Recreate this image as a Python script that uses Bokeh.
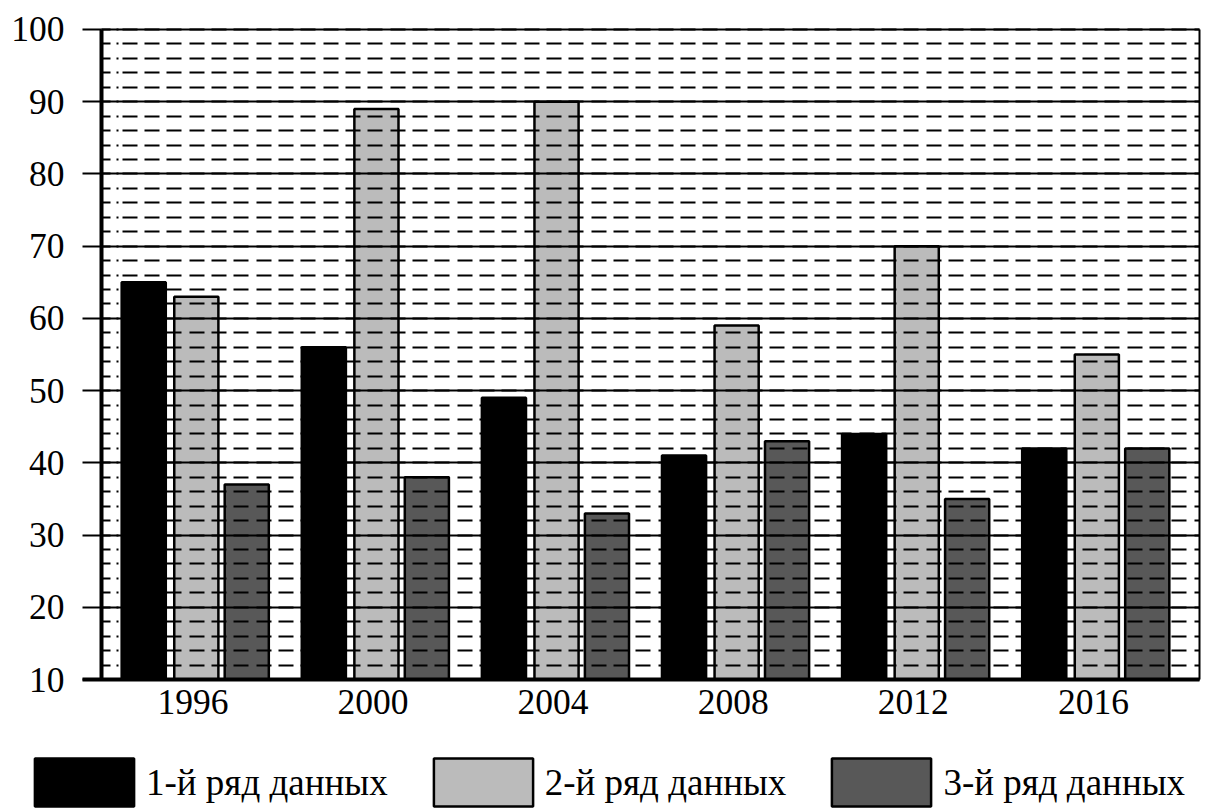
from bokeh.plotting import figure
from bokeh.models import (Range1d, FixedTicker, SingleIntervalTicker, Legend, LegendItem,
                          ColumnDataSource, LinearAxis)
from bokeh.embed import file_html
from bokeh.resources import INLINE

# ---- data ----
years = ["1996", "2000", "2004", "2008", "2012", "2016"]
series1 = [65, 56, 49, 41, 44, 42]
series2 = [63, 89, 90, 59, 70, 55]
series3 = [37, 38, 33, 43, 35, 42]
series_names = ["1-й ряд данных", "2-й ряд данных", "3-й ряд данных"]
y_min, y_max = 10, 100

# ---- style ----
colors = ["#000000", "#bbbbbb", "#585858"]
offsets = [-0.273, 0.019, 0.299]
bar_w = 0.245
FONT = "Liberation Serif"
FS = "35.5px"
X_LEFT, X_RIGHT = -0.507, 5.589      # plot-area edges (data units)

p = figure(width=1216, height=812,
           x_range=Range1d(-1.0683, 5.6835), y_range=Range1d(-8.415, 104.015),
           output_backend="svg", toolbar_location=None,
           min_border=0, min_border_left=0, min_border_right=0,
           min_border_top=0, min_border_bottom=0)
p.background_fill_color = "white"
p.border_fill_color = "white"
p.outline_line_color = None

renderers = []
for vals, col, off in zip([series1, series2, series3], colors, offsets):
    src = ColumnDataSource(dict(x=[i + off for i in range(len(years))], top=vals))
    r = p.vbar(x="x", top="top", bottom=y_min, width=bar_w, source=src,
               fill_color=col, line_color="black", line_width=2.5)
    renderers.append(r)

# x axis, drawn at y = 10
xa = p.xaxis[0]
xa.fixed_location = y_min
xa.bounds = (-0.613, X_RIGHT)
xa.ticker = FixedTicker(ticks=list(range(len(years))))
xa.major_label_overrides = {i: y for i, y in enumerate(years)}
xa.axis_line_width = 4
xa.axis_line_color = "black"
xa.major_tick_line_color = None
xa.minor_tick_line_color = None
xa.major_label_standoff = 4
xa.major_label_text_font = FONT
xa.major_label_text_font_size = FS
xa.major_label_text_color = "black"

# y axis, drawn at left plot edge
ya = p.yaxis[0]
ya.fixed_location = X_LEFT
ya.bounds = (y_min, y_max)
ya.ticker = SingleIntervalTicker(interval=10, num_minor_ticks=5)
ya.axis_line_width = 4
ya.axis_line_color = "black"
ya.major_tick_out = 19
ya.major_tick_in = 0
ya.major_tick_line_width = 2
ya.major_tick_line_color = "black"
ya.minor_tick_line_color = None
ya.major_label_standoff = 18
ya.major_label_text_font = FONT
ya.major_label_text_font_size = FS
ya.major_label_text_color = "black"

# right border line
rb = LinearAxis(fixed_location=X_RIGHT, bounds=(y_min, y_max),
                ticker=FixedTicker(ticks=[]), axis_line_width=2, axis_line_color="black",
                major_tick_line_color=None, minor_tick_line_color=None,
                major_label_text_font_size="0px")
p.add_layout(rb, "right")

# grids (drawn above bars)
p.xgrid.grid_line_color = None
dash = "9 6 2 4 " + " ".join(["15 7 15 7 15 8"] * 18)
g = p.ygrid[0]
g.level = "guide"
g.grid_line_color = "black"
g.grid_line_width = 2
g.minor_grid_line_color = "black"
g.minor_grid_line_width = 2
g.minor_grid_line_dash = dash
g.cross_bounds = (X_LEFT, X_RIGHT)

items = [LegendItem(label=n, renderers=[r]) for n, r in zip(series_names, renderers)]
legend = Legend(items=items, orientation="horizontal", location=(22, 0),
                glyph_width=124, glyph_height=60, label_standoff=0, spacing=33,
                padding=0, margin=0, border_line_color=None,
                background_fill_alpha=0,
                label_text_font=FONT, label_text_font_size="37px",
                label_text_color="black", label_height=60)
p.add_layout(legend, "center")

open("out.html", "w").write(file_html(p, INLINE))
